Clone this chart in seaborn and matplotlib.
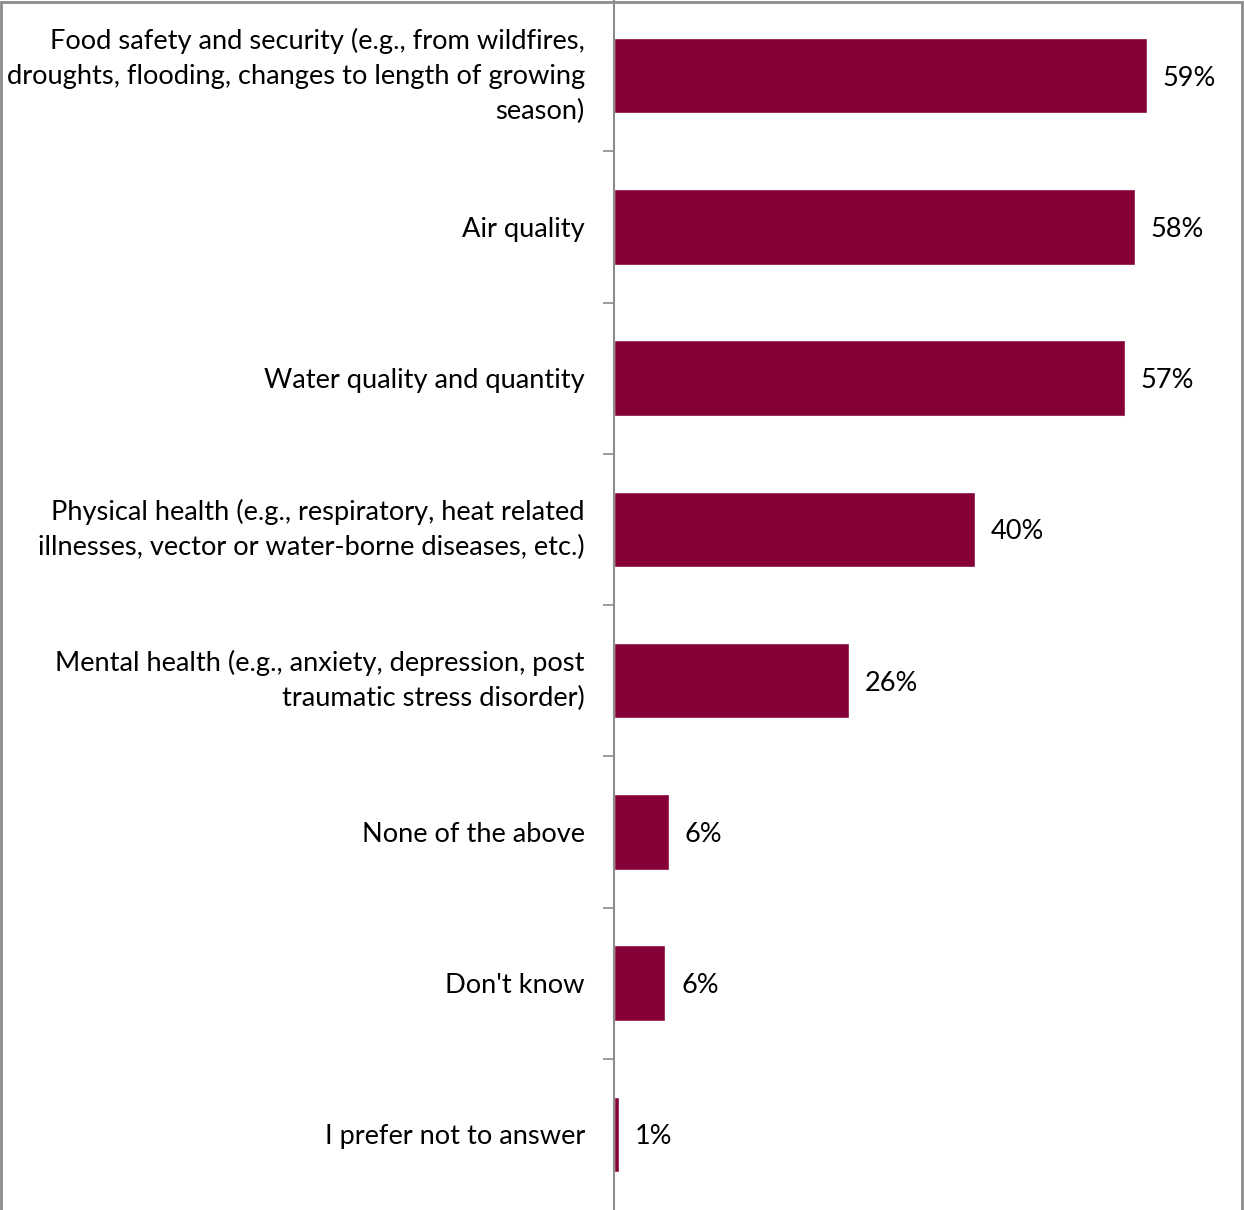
import matplotlib
matplotlib.use("Agg")
import matplotlib.pyplot as plt
import seaborn as sns
import pandas as pd

# datos
categorias = [
    "Food safety and security (e.g., from wildfires,\ndroughts, flooding, changes to length of growing\nseason)",
    "Air quality",
    "Water quality and quantity",
    "Physical health (e.g., respiratory, heat related\nillnesses, vector or water-borne diseases, etc.)",
    "Mental health (e.g., anxiety, depression, post\ntraumatic stress disorder)",
    "None of the above",
    "Don't know",
    "I prefer not to answer",
]
valores = [59.0, 57.7, 56.6, 40.0, 26.0, 6.1, 5.7, 0.5]
etiquetas = ["59%", "58%", "57%", "40%", "26%", "6%", "6%", "1%"]

df = pd.DataFrame({"categoria": categorias, "valor": valores})

sns.set_style("white")
plt.rcParams["font.family"] = ["Lato", "DejaVu Sans"]
plt.rcParams["text.color"] = "black"
plt.rcParams["ytick.labelcolor"] = "black"

fig = plt.figure(figsize=(12.44, 12.10), dpi=100)
ax = fig.add_axes([614 / 1244, 0.0, 1 - 614 / 1244, 1.0])

sns.barplot(data=df, y="categoria", x="valor", color="#840036",
            saturation=1, width=0.5, orient="h", ax=ax)

for i, (v, txt) in enumerate(zip(valores, etiquetas)):
    ax.text(v + 1.75, i, txt, va="center_baseline", ha="left",
            fontsize=19.5, color="black")

ax.set_xlim(0, 69.8)
ax.set_ylim(7.5, -0.5)
ax.set_xlabel("")
ax.set_ylabel("")
ax.set_xticks([])

# ticks en los limites entre categorias, etiquetas centradas
ax.set_yticks([i + 0.5 for i in range(len(categorias) - 1)])
ax.set_yticklabels([])
ax.set_yticks(range(len(categorias)), minor=True)
ax.set_yticklabels(categorias, minor=True, fontsize=19.6, ha="right",
                   linespacing=1.5)
for lbl in ax.get_yticklabels(minor=True):
    # una linea: centrar sobre la linea base; varias: centrar el bloque
    lbl.set_va("center" if "\n" in lbl.get_text() else "center_baseline")
ax.tick_params(axis="y", which="major", length=8, width=1.2,
               color="#8c8c8c", direction="out", left=True)
ax.tick_params(axis="y", which="minor", length=0, pad=21)

for s in ["top", "right", "bottom"]:
    ax.spines[s].set_visible(False)
ax.spines["left"].set_color("#8c8c8c")
ax.spines["left"].set_linewidth(1.5)

# borde gris alrededor de la figura
fig.patches.append(plt.Rectangle((0.001, -0.01), 0.997, 1.008,
                                 transform=fig.transFigure, fill=False,
                                 edgecolor="#8c8c8c", linewidth=2))

plt.savefig("out.png", dpi=100)
plt.close()
